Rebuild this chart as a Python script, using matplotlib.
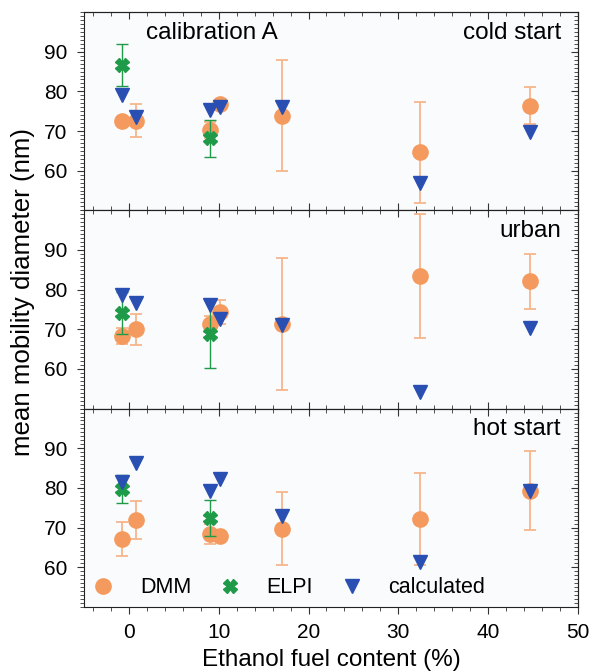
import numpy as np
import matplotlib.pyplot as plt
from matplotlib.ticker import MultipleLocator

plt.rcParams["font.family"] = ["Liberation Sans", "DejaVu Sans"]

# ethanol content positions (slightly offset in the original for readability)
x_pos = [-0.7, 0.8, 9.0, 10.2, 17.0, 32.4, 44.6]
x_elpi = [-0.7, 9.0]

panels = ["cold start", "urban", "hot start"]

dmm = {
    "cold start": [72.6, 72.6, 70.3, 76.8, 73.9, 64.6, 76.4],
    "urban":      [68.2, 70.0, 71.4, 74.3, 71.4, 83.5, 82.1],
    "hot start":  [67.1, 72.0, 68.3, 67.8, 69.7, 72.1, 79.3],
}
dmm_err = {
    "cold start": [1.0, 4.2, 2.0, 1.0, 13.9, 12.8, 4.7],
    "urban":      [2.0, 3.9, 2.0, 3.0, 16.6, 15.7, 6.9],
    "hot start":  [4.2, 4.8, 2.5, 1.0, 9.2, 11.6, 9.9],
}
elpi = {
    "cold start": [86.7, 68.2],
    "urban":      [74.2, 68.9],
    "hot start":  [79.8, 72.4],
}
elpi_err = {
    "cold start": [5.3, 4.7],
    "urban":      [5.3, 8.7],
    "hot start":  [3.5, 4.6],
}
calc = {
    "cold start": [79.1, 73.5, 75.3, 76.0, 76.0, 57.0, 69.7],
    "urban":      [78.6, 76.7, 76.0, 72.5, 71.0, 54.2, 70.3],
    "hot start":  [81.4, 86.2, 79.1, 82.3, 73.0, 61.2, 79.3],
}

c_dmm = "#f49a5e"
c_dmm_err = "#f6b68a"
c_elpi = "#1f9a48"
c_calc = "#2a4fb3"


def style_ticks(ax, bottom_out):
    ax.set_xlim(-5, 50)
    ax.set_ylim(50, 100)
    ax.set_yticks([60, 70, 80, 90])
    ax.yaxis.set_minor_locator(MultipleLocator(1))
    ax.xaxis.set_major_locator(MultipleLocator(10))
    ax.xaxis.set_minor_locator(MultipleLocator(2))
    ax.tick_params(which="both", labelsize=15, color="#333333", pad=7)
    ax.tick_params(axis="y", which="both", direction="out")
    ax.tick_params(axis="x", which="both",
                   direction="out" if bottom_out else "in")
    ax.tick_params(which="major", length=5)
    ax.tick_params(which="minor", length=3)

    # inward ticks on top and right, no labels
    top = ax.secondary_xaxis("top")
    right = ax.secondary_yaxis("right")
    top.xaxis.set_major_locator(MultipleLocator(10))
    top.xaxis.set_minor_locator(MultipleLocator(2))
    right.set_yticks([60, 70, 80, 90])
    right.yaxis.set_minor_locator(MultipleLocator(1))
    for sec in (top, right):
        sec.tick_params(which="both", direction="in", color="#333333",
                        labeltop=False, labelright=False)
        sec.tick_params(which="major", length=5)
        sec.tick_params(which="minor", length=3)
        for sp in sec.spines.values():
            sp.set_color("#222222")
    for sp in ax.spines.values():
        sp.set_color("#222222")


fig, axes = plt.subplots(3, 1, figsize=(5.9, 6.72), dpi=100, sharex=True)
fig.subplots_adjust(left=0.142, right=0.98, top=0.982, bottom=0.097, hspace=0)

for i, (ax, name) in enumerate(zip(axes, panels)):
    ax.set_facecolor("#fafbfd")
    h_dmm = ax.errorbar(x_pos, dmm[name], yerr=dmm_err[name], fmt="o", ms=11,
                        color=c_dmm, ecolor=c_dmm_err, elinewidth=1.3,
                        capsize=4, capthick=1.3, zorder=2, clip_on=False)
    h_elpi = ax.errorbar(x_elpi, elpi[name], yerr=elpi_err[name], fmt="X",
                         ms=10, color=c_elpi, ecolor=c_elpi, elinewidth=1.0,
                         capsize=4, capthick=1.0, zorder=3)
    h_calc, = ax.plot(x_pos, calc[name], "v", ms=10, color=c_calc, ls="none",
                      zorder=4)
    style_ticks(ax, bottom_out=(i == 2))
    ax.text(0.965, 0.95, name, transform=ax.transAxes, ha="right", va="top",
            fontsize=17.5)

axes[0].text(0.125, 0.95, "calibration A", transform=axes[0].transAxes,
             ha="left", va="top", fontsize=17.5)

axes[-1].legend([h_dmm[0], h_elpi[0], h_calc], ["DMM", "ELPI", "calculated"],
                loc="lower left", bbox_to_anchor=(0, 0), ncol=3,
                frameon=False, fontsize=15.5, handlelength=1.0,
                handletextpad=1.2, columnspacing=1.3, borderaxespad=0,
                numpoints=1)

axes[1].set_ylabel("mean mobility diameter (nm)", fontsize=18.6)
axes[1].yaxis.set_label_coords(-0.099, 0.59)
axes[-1].set_xlabel("Ethanol fuel content (%)", fontsize=17.5, labelpad=5)

fig.savefig("out.png", dpi=100)
